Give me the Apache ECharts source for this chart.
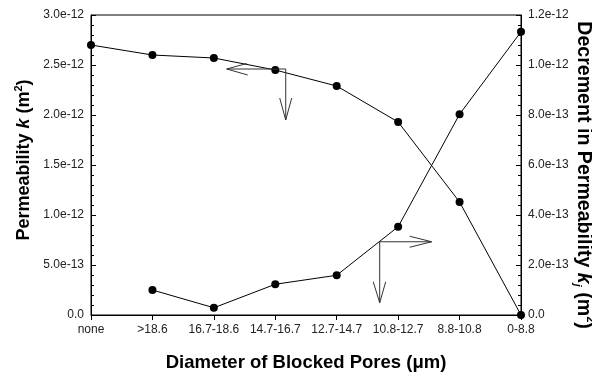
<!DOCTYPE html>
<html>
<head>
<meta charset="utf-8">
<script src="https://cdn.jsdelivr.net/npm/echarts@6/dist/echarts.min.js"></script>
<style>html,body{margin:0;padding:0;background:#fff;}#c{width:592px;height:376px;}</style>
</head>
<body>
<div id="c"></div>
<script>
const categories = ['none', '>18.6', '16.7-18.6', '14.7-16.7', '12.7-14.7', '10.8-12.7', '8.8-10.8', '0-8.8'];
const permeability = [2.70e-12, 2.60e-12, 2.57e-12, 2.45e-12, 2.29e-12, 1.93e-12, 1.13e-12, 0];
const decrement = [null, 1.0e-13, 2.9e-14, 1.23e-13, 1.59e-13, 3.53e-13, 8.03e-13, 1.133e-12];
// annotation arrow anchors: [category position, value, yAxisIndex]
const arrowLeftAnchor = [3.17, 2.46e-12, 0];
const arrowRightAnchor = [4.70, 2.93e-13, 1];

const FONT = '"Liberation Sans", Arial, sans-serif';
function fmt(v) { return v === 0 ? '0.0' : v.toExponential(1); }

const chart = echarts.init(document.getElementById('c'), null, {renderer: 'canvas'});
function rich(size) {
  return {
    b: {fontFamily: FONT, fontWeight: 'bold', fontSize: size, color: '#000', lineHeight: size + 4},
    i: {fontFamily: FONT, fontWeight: 'bold', fontStyle: 'italic', fontSize: size, color: '#000', lineHeight: size + 4},
    sup: {fontFamily: FONT, fontWeight: 'bold', fontSize: 11, color: '#000', lineHeight: 11, verticalAlign: 'top'},
    sub: {fontFamily: FONT, fontWeight: 'bold', fontStyle: 'italic', fontSize: 11, color: '#000', lineHeight: 11, verticalAlign: 'bottom'}
  };
}
chart.setOption({
  animation: false,
  backgroundColor: '#fff',
  grid: {left: 91, right: 71, top: 15, bottom: 61, show: true, borderColor: '#000', borderWidth: 1, containLabel: false, outerBoundsMode: 'none'},
  xAxis: {
    type: 'category', data: categories, boundaryGap: false,
    axisLine: {lineStyle: {color: '#000', width: 1}},
    axisTick: {show: true, inside: false, length: 5, lineStyle: {color: '#000'}},
    axisLabel: {fontFamily: FONT, fontSize: 12, color: '#222', margin: 9, interval: 0},
    splitLine: {show: false},
    name: 'Diameter of Blocked Pores (\u03bcm)', nameLocation: 'middle', nameGap: 38, nameMoveOverlap: false,
    nameTextStyle: {fontFamily: FONT, fontWeight: 'bold', fontSize: 18.5, color: '#000'}
  },
  yAxis: [{
    type: 'value', min: 0, max: 3e-12, interval: 0.5e-12, position: 'left',
    axisLine: {show: true, lineStyle: {color: '#000', width: 1}},
    axisTick: {show: true, inside: true, length: 5, lineStyle: {color: '#000'}},
    minorTick: {show: true, splitNumber: 5, length: 3, lineStyle: {color: '#000'}},
    axisLabel: {fontFamily: FONT, fontSize: 12, color: '#222', margin: 7, formatter: fmt},
    splitLine: {show: false},
    name: '{b|Permeability }{i|k}{b| (m}{sup|2}{b|)}', nameLocation: 'middle', nameRotate: 90, nameGap: 56, nameMoveOverlap: false,
    nameTextStyle: {rich: rich(18), padding: [0, 0, 0, 10]}
  }, {
    type: 'value', min: 0, max: 1.2e-12, interval: 2e-13, position: 'right',
    axisLine: {show: true, lineStyle: {color: '#000', width: 1}},
    axisTick: {show: true, inside: true, length: 5, lineStyle: {color: '#000'}},
    minorTick: {show: true, splitNumber: 5, length: 3, lineStyle: {color: '#000'}},
    axisLabel: {fontFamily: FONT, fontSize: 12, color: '#222', margin: 7, formatter: fmt},
    splitLine: {show: false},
    name: '{b|Decrement in Permeability }{i|k}{sub|j}{b| (m}{sup|2}{b|)}', nameLocation: 'middle', nameRotate: -90, nameGap: 51, nameMoveOverlap: false,
    nameTextStyle: {rich: rich(19.6), padding: [0, 0, 0, 20]}
  }],
  series: [{
    type: 'line', yAxisIndex: 0, data: permeability,
    symbol: 'circle', symbolSize: 8, itemStyle: {color: '#000'},
    lineStyle: {color: '#000', width: 1}
  }, {
    type: 'line', yAxisIndex: 1, data: decrement,
    symbol: 'circle', symbolSize: 8, itemStyle: {color: '#000'},
    lineStyle: {color: '#000', width: 1}
  }]
});

function px(anchor) {
  const pos = anchor[0], val = anchor[1], yi = anchor[2];
  const i0 = Math.floor(pos), f = pos - i0;
  const a = chart.convertToPixel({xAxisIndex: 0, yAxisIndex: yi}, [i0, val]);
  const b = chart.convertToPixel({xAxisIndex: 0, yAxisIndex: yi}, [i0 + 1, val]);
  return [a[0] + (b[0] - a[0]) * f, a[1]];
}
const ls = {stroke: '#333', lineWidth: 1, fill: null};
function pl(points) { return {type: 'polyline', shape: {points: points}, style: ls, silent: true, z: 10}; }
const c1 = px(arrowLeftAnchor);
const c2 = px(arrowRightAnchor);
chart.setOption({
  graphic: [
    pl([[c1[0] - 59, c1[1]], [c1[0], c1[1]], [c1[0], c1[1] + 51]]),
    pl([[c1[0] - 39, c1[1] - 5.5], [c1[0] - 59, c1[1]], [c1[0] - 38, c1[1] + 6]]),
    pl([[c1[0] - 6, c1[1] + 29], [c1[0], c1[1] + 51], [c1[0] + 6, c1[1] + 29]]),
    pl([[c2[0] + 52, c2[1]], [c2[0], c2[1]], [c2[0], c2[1] + 61]]),
    pl([[c2[0] + 30, c2[1] - 5.5], [c2[0] + 52, c2[1]], [c2[0] + 30, c2[1] + 5.5]]),
    pl([[c2[0] - 6.5, c2[1] + 40], [c2[0], c2[1] + 61], [c2[0] + 6, c2[1] + 40]])
  ]
});
</script>
</body>
</html>
